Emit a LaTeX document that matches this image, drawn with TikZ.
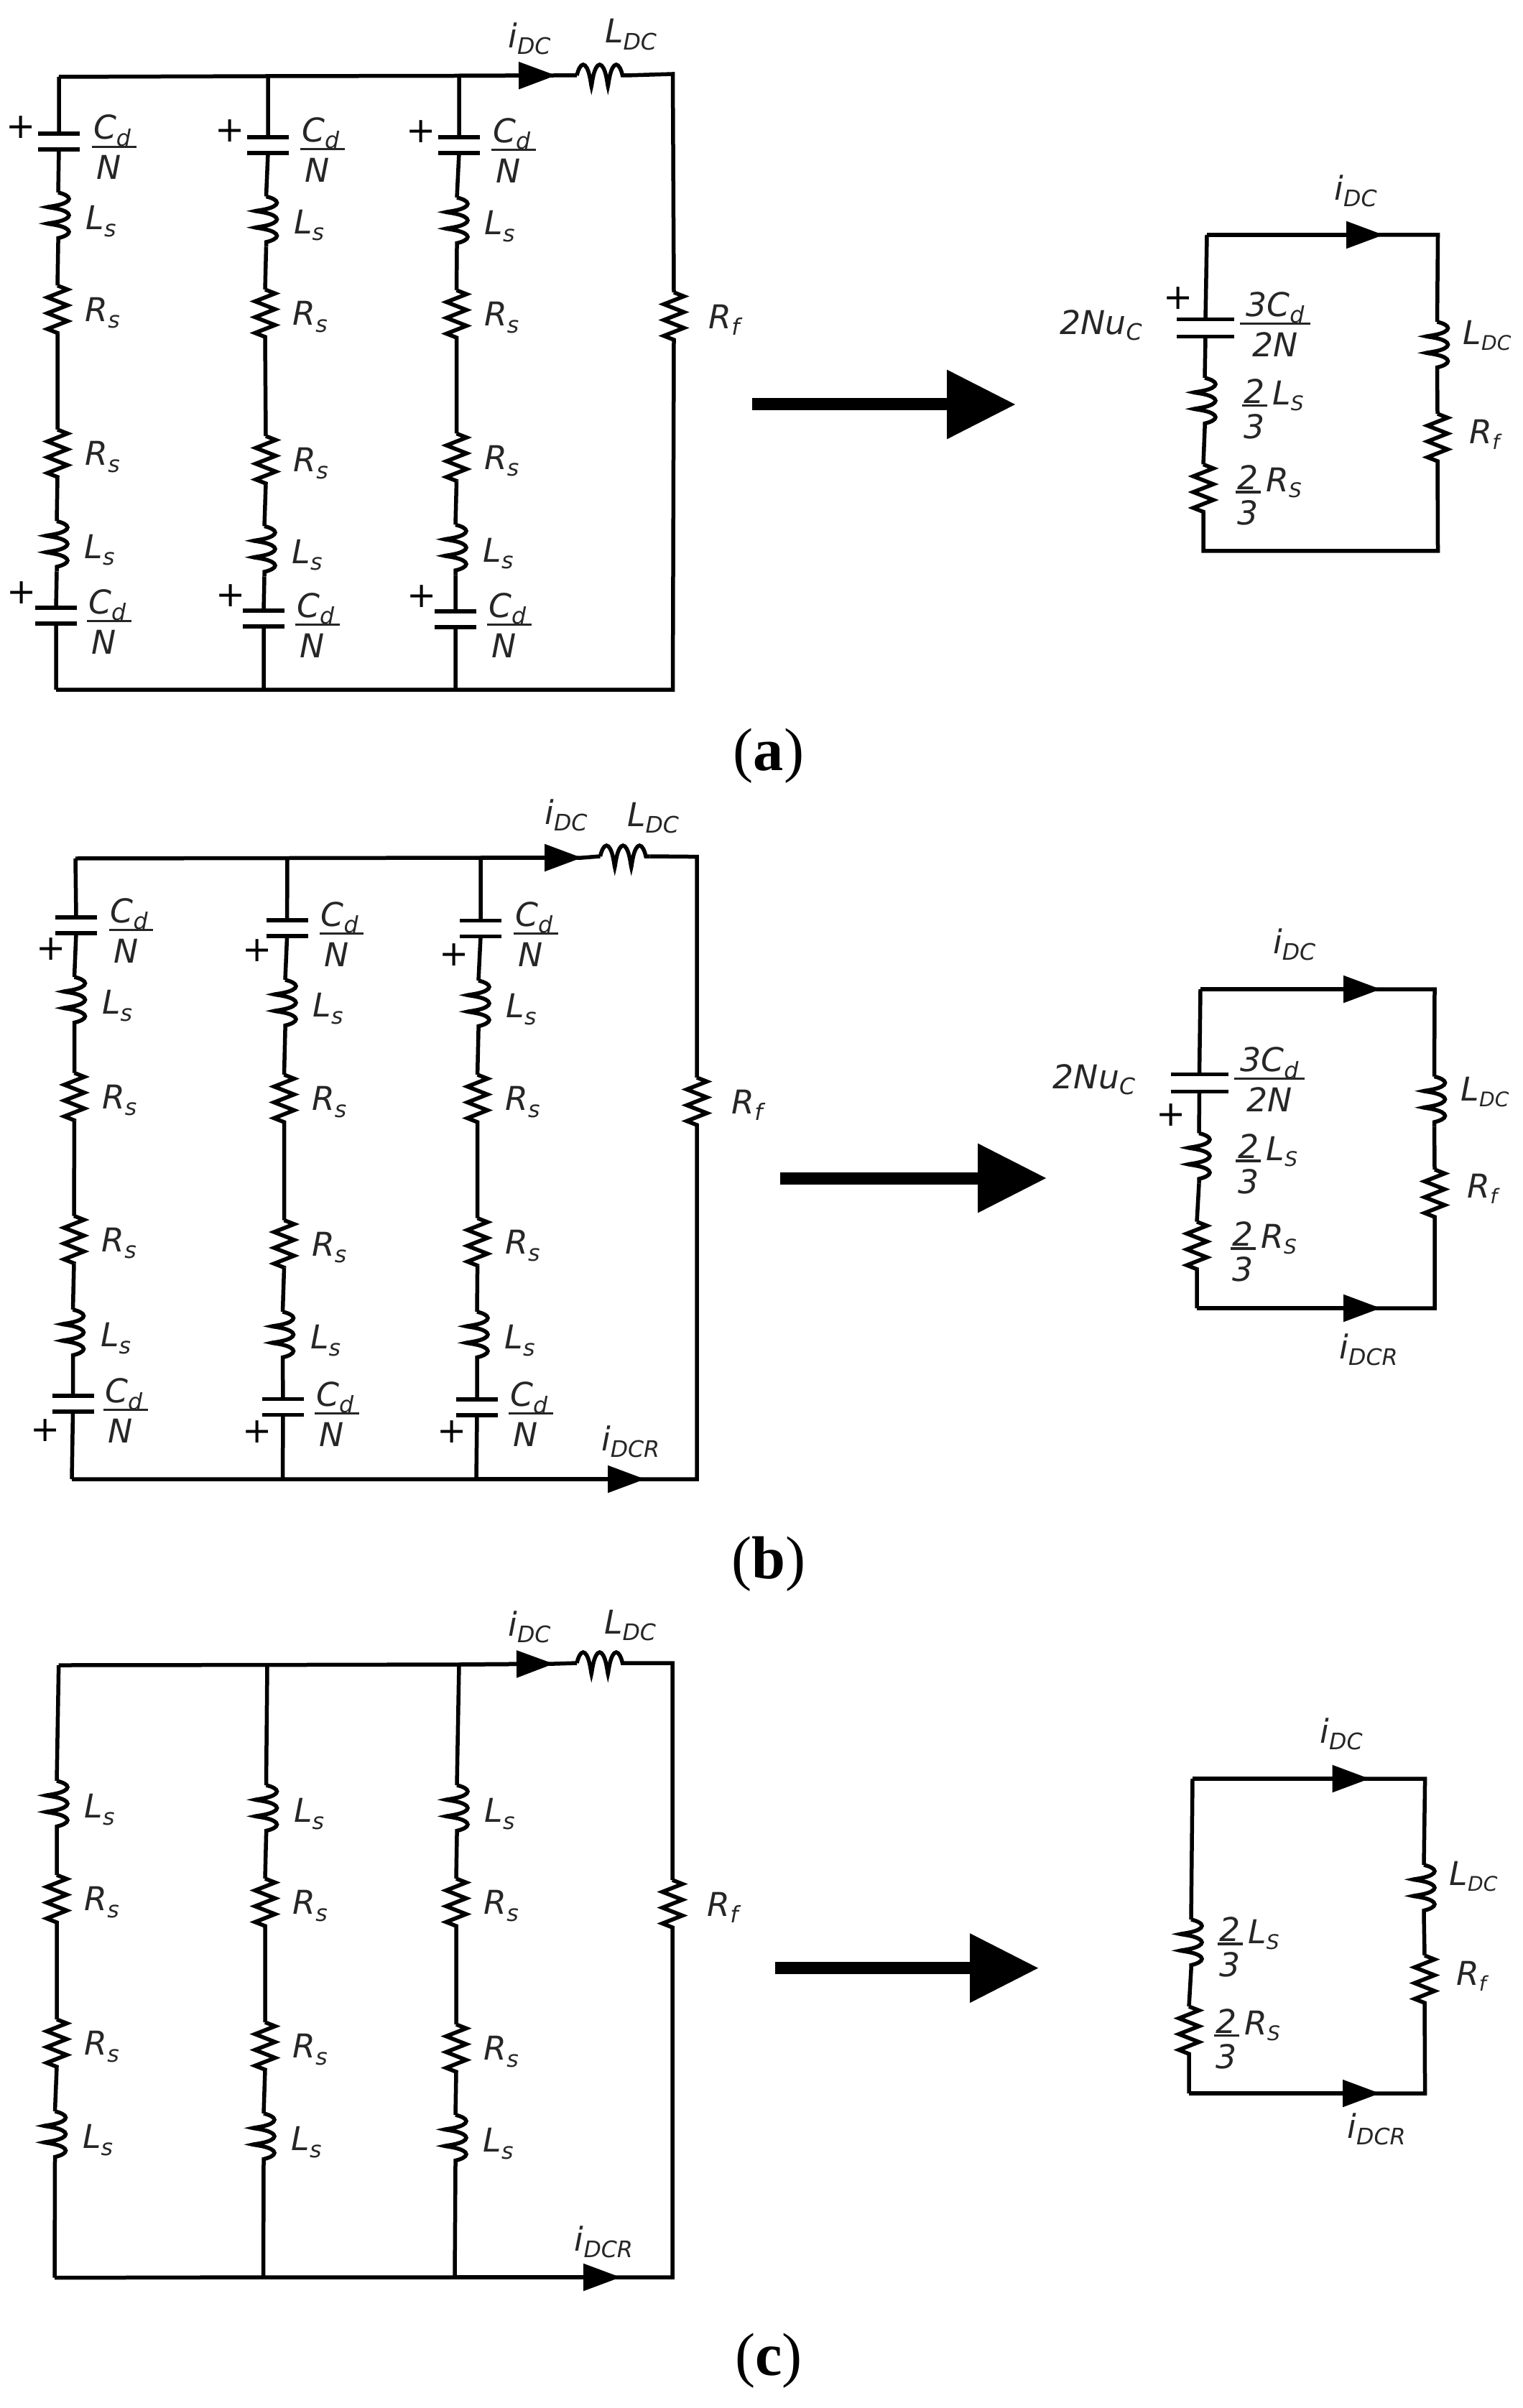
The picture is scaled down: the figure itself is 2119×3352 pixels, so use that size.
\documentclass[tikz,border=0pt]{standalone}
\usepackage{fontspec}
\setmainfont{DejaVu Sans}
\newfontfamily\captionserif{Liberation Serif}
\usetikzlibrary{arrows.meta}
\usetikzlibrary{decorations.pathmorphing}
\setlength{\arrayrulewidth}{0.9pt}
\setlength{\tabcolsep}{0pt}
\newcommand{\symval}[2]{\textit{#1}\raisebox{-2.7pt}{\fontsize{9}{9}\selectfont\textit{#2}}}
\newcommand{\capsval}[2]{\textit{#1}\raisebox{-2.2pt}{\fontsize{8}{8}\selectfont\textit{#2}}}
\newcommand{\fracval}[3]{\begin{tabular}{c}\rule{0pt}{15pt}\makebox[#1]{#2}\\[-2pt]\hline\rule{0pt}{12.5pt}#3\end{tabular}}
\newcommand{\cdfrac}{\fracval{17.6pt}{\symval{C}{d}\kern 1.5pt}{\textit{N}\kern 4pt}}
\newcommand{\thirdval}[2]{\begin{tabular}{c}\rule{0pt}{16.5pt}\makebox[10pt]{\textit{2}}\\[-4pt]\hline\rule{0pt}{12.5pt}\textit{3}\end{tabular}\raisebox{3.2pt}{\,\capsval{#1}{#2}}}
\tikzset{
  wire/.style={draw, line width=0.55mm},
  coilLine/.style={wire, decorate, decoration={coil, aspect=0.2, segment length=2.3mm, amplitude=1.5mm}},
  zigLine/.style={wire, decorate, decoration={zigzag, segment length=2.2mm, amplitude=1.4mm}},
  indNode/.style={rectangle, inner sep=0pt, outer sep=0pt, minimum width=0pt, minimum height=7mm,
    append after command={(\tikzlastnode.north) edge[coilLine] (\tikzlastnode.south)}},
  resNode/.style={rectangle, inner sep=0pt, outer sep=0pt, minimum width=0pt, minimum height=6.6mm,
    append after command={(\tikzlastnode.north) edge[zigLine] (\tikzlastnode.south)}},
  ldcNode/.style={rectangle, inner sep=0pt, outer sep=0pt, minimum height=0pt, minimum width=6.9mm,
    append after command={(\tikzlastnode.west) edge[coilLine] (\tikzlastnode.east)}},
  capNode/.style={rectangle, inner sep=0pt, outer sep=0pt, minimum width=5.8mm, minimum height=2.2mm,
    append after command={(\tikzlastnode.north west) edge[wire] (\tikzlastnode.north east)
      (\tikzlastnode.south west) edge[wire] (\tikzlastnode.south east)}},
  bigCapNode/.style={capNode, minimum width=8mm, minimum height=2.4mm},
  valNode/.style={inner sep=0pt, text=black!85, font=\fontsize{13}{15}\selectfont},
  plusNode/.style={inner sep=0pt, font=\fontsize{14}{14}\selectfont},
  captionNode/.style={inner sep=0pt, font=\captionserif\fontsize{24}{28}\selectfont},
  lsNode/.style={indNode, label={[valNode,xshift=3.8mm,yshift=-1.5pt]right:\symval{L}{s}}},
  rsNode/.style={resNode, label={[valNode,xshift=3.8mm,yshift=-1.5pt]right:\symval{R}{s}}},
  rfNode/.style={resNode, label={[valNode,xshift=4.8mm,yshift=-1.5pt]right:\symval{R}{f}}},
  currentArrow/.style={wire, -{Triangle[length=5.2mm,width=3.7mm]}},
  bigArrow/.style={draw, line width=1.7mm, -{Triangle[length=9.6mm,width=9.2mm]}},
}

\begin{document}
\begin{tikzpicture}[x=0.1mm,y=-0.1mm]
          \useasboundingbox (0,0) rectangle (2119,3352);

          % (a) left
          \coordinate (topA1) at (82,107) ;
          \coordinate (topA2) at (373,106) ;
          \coordinate (topA3) at (639,105.5) ;
          \coordinate (tipA) at (774,105) ;
          \coordinate (corA1) at (936.5,103) ;
          \coordinate (corA2) at (936.5,960) ;
          \coordinate (botA1) at (78,960) ;
          \coordinate (botA2) at (367,960) ;
          \coordinate (botA3) at (634,960) ;

          \node[capNode] (capA11) at (82,197) {} ;
          \node[lsNode] (indA11) at (81,303) {} ;
          \node[rsNode] (resA11) at (80,430.5) {} ;
          \node[rsNode] (resA12) at (80,631) {} ;
          \node[lsNode] (indA12) at (79,760.5) {} ;
          \node[capNode] (capA12) at (78,857) {} ;
          \node[capNode] (capA21) at (373,202) {} ;
          \node[lsNode] (indA21) at (370.5,308.5) {} ;
          \node[rsNode] (resA21) at (369,436) {} ;
          \node[rsNode] (resA22) at (370,640) {} ;
          \node[lsNode] (indA22) at (368,767.5) {} ;
          \node[capNode] (capA22) at (367,861) {} ;
          \node[capNode] (capA31) at (639,202) {} ;
          \node[lsNode] (indA31) at (636,310) {} ;
          \node[rsNode] (resA31) at (635.5,437) {} ;
          \node[rsNode] (resA32) at (635.5,636.5) {} ;
          \node[lsNode] (indA32) at (634,765.5) {} ;
          \node[capNode] (capA32) at (634,862) {} ;
          \node[ldcNode] (ldcA) at (837.5,105) {} ;
          \node[rfNode] (rfA) at (938,440) {} ;

          \node[plusNode] (plusA11) at (29,177) {+} ;
          \node[plusNode] (plusA12) at (30,825) {+} ;
          \node[plusNode] (plusA21) at (320,182) {+} ;
          \node[plusNode] (plusA22) at (321,829) {+} ;
          \node[plusNode] (plusA31) at (586,183) {+} ;
          \node[plusNode] (plusA32) at (587,830) {+} ;
          \node[valNode] (fracA11) at (158.7,203.5) {\cdfrac} ;
          \node[valNode] (fracA12) at (152,864) {\cdfrac} ;
          \node[valNode] (fracA21) at (449,207) {\cdfrac} ;
          \node[valNode] (fracA22) at (442,869) {\cdfrac} ;
          \node[valNode] (fracA31) at (715,208) {\cdfrac} ;
          \node[valNode] (fracA32) at (709,869) {\cdfrac} ;
          \node[valNode] (idcA) at (737,54) {\symval{i}{DC}} ;
          \node[valNode] (ldcTextA) at (878,48) {\symval{L}{DC}} ;

          \draw[wire]
            (topA1) -- (topA2) -- (topA3) -- (tipA) -- (ldcA.west)
            (ldcA.east) -- (corA1) -- (rfA.north)
            (rfA.south) -- (corA2) -- (botA3) -- (botA2) -- (botA1)
            (topA1) -- (capA11.north)
            (capA11.south) -- (indA11.north)
            (indA11.south) -- (resA11.north)
            (resA11.south) -- (resA12.north)
            (resA12.south) -- (indA12.north)
            (indA12.south) -- (capA12.north)
            (capA12.south) -- (botA1)
            (topA2) -- (capA21.north)
            (capA21.south) -- (indA21.north)
            (indA21.south) -- (resA21.north)
            (resA21.south) -- (resA22.north)
            (resA22.south) -- (indA22.north)
            (indA22.south) -- (capA22.north)
            (capA22.south) -- (botA2)
            (topA3) -- (capA31.north)
            (capA31.south) -- (indA31.north)
            (indA31.south) -- (resA31.north)
            (resA31.south) -- (resA32.north)
            (resA32.south) -- (indA32.north)
            (indA32.south) -- (capA32.north)
            (capA32.south) -- (botA3)
            ;
          \draw[currentArrow] (topA3) -- (tipA) ;

          % (a) arrow and right
          \coordinate (bigA1) at (1047,563) ;
          \coordinate (bigA2) at (1414,563) ;
          \draw[bigArrow] (bigA1) -- (bigA2) ;

          \coordinate (rectA1) at (1680,327) ;
          \coordinate (rectTipA) at (1926,327) ;
          \coordinate (rectA2) at (2001.5,327) ;
          \coordinate (rectA3) at (2001.5,767) ;
          \coordinate (rectA4) at (1675,767) ;
          \node[bigCapNode] (capRA) at (1678,456.6) {} ;
          \node[indNode] (indRA) at (1677,561) {} ;
          \node[resNode] (resRA) at (1675,679.5) {} ;
          \node[indNode] (ldcRA) at (2000.5,483) {} ;
          \node[resNode] (rfRA) at (2001,609) {} ;
          \node[plusNode] (plusRA) at (1640,415) {+} ;
          \node[valNode] (unRA) at (1532.5,452.6) {\textit{2Nu}\raisebox{-2.2pt}{\fontsize{9}{9}\selectfont\textit{C}}} ;
          \node[valNode] (fracRA) at (1775,450) {\fracval{27.8pt}{\textit{3}\symval{C}{d}}{\textit{2N}}} ;
          \node[valNode,anchor=west] (lsRA) at (1728,564.5) {\thirdval{L}{S}} ;
          \node[valNode,anchor=west] (rsRA) at (1719,685) {\thirdval{R}{S}} ;
          \node[valNode] (idcRA) at (1887,266) {\symval{i}{DC}} ;
          \node[valNode,anchor=west] (ldcTextRA) at (2036,467) {\capsval{L}{DC}} ;
          \node[valNode,anchor=west] (rfTextRA) at (2045,605) {\capsval{R}{f}} ;
          \draw[wire]
            (rectA1) -- (rectTipA) -- (rectA2) -- (ldcRA.north)
            (ldcRA.south) -- (rfRA.north)
            (rfRA.south) -- (rectA3) -- (rectA4) -- (resRA.south)
            (resRA.north) -- (indRA.south)
            (indRA.north) -- (capRA.south)
            (capRA.north) -- (rectA1)
            ;
          \draw[currentArrow] (rectA1) -- (rectTipA) ;
          \node[captionNode] (captionA) at (1070,1052) {(\textbf{a})} ;

          % (b) left
          \coordinate (topB1) at (105,1195) ;
          \coordinate (topB2) at (400,1194.5) ;
          \coordinate (topB3) at (669,1194) ;
          \coordinate (tipB) at (810,1194) ;
          \coordinate (corB1) at (970,1192.6) ;
          \coordinate (corB2) at (970,2059) ;
          \coordinate (botB1) at (100,2059) ;
          \coordinate (botB2) at (393.5,2059) ;
          \coordinate (botB3) at (663,2059) ;
          \coordinate (tipBB) at (898,2059) ;

          \node[capNode] (capB11) at (106,1288) {} ;
          \node[lsNode] (indB11) at (103.5,1395) {} ;
          \node[rsNode] (resB11) at (103.5,1526.5) {} ;
          \node[rsNode] (resB12) at (103,1725.5) {} ;
          \node[lsNode] (indB12) at (101.5,1858) {} ;
          \node[capNode] (capB12) at (101.5,1954) {} ;
          \node[capNode] (capB21) at (399.6,1292) {} ;
          \node[lsNode] (indB21) at (397,1399) {} ;
          \node[rsNode] (resB21) at (395.5,1529) {} ;
          \node[rsNode] (resB22) at (395.5,1731.5) {} ;
          \node[lsNode] (indB22) at (393.5,1861) {} ;
          \node[capNode] (capB22) at (394,1958.6) {} ;
          \node[capNode] (capB31) at (669,1292.5) {} ;
          \node[lsNode] (indB31) at (666,1400) {} ;
          \node[rsNode] (resB31) at (664.6,1529) {} ;
          \node[rsNode] (resB32) at (664.6,1728.7) {} ;
          \node[lsNode] (indB32) at (664,1861) {} ;
          \node[capNode] (capB32) at (664,1959) {} ;
          \node[ldcNode] (ldcB) at (870,1192) {} ;
          \node[rfNode] (rfB) at (970,1533) {} ;

          \node[plusNode] (plusB11) at (71,1321) {+} ;
          \node[plusNode] (plusB12) at (63,1991) {+} ;
          \node[plusNode] (plusB21) at (358,1323) {+} ;
          \node[plusNode] (plusB22) at (358,1992.6) {+} ;
          \node[plusNode] (plusB31) at (632,1329) {+} ;
          \node[plusNode] (plusB32) at (629,1993) {+} ;
          \node[valNode] (fracB11) at (182.5,1293.7) {\cdfrac} ;
          \node[valNode] (fracB12) at (175,1962) {\cdfrac} ;
          \node[valNode] (fracB21) at (475.5,1298.6) {\cdfrac} ;
          \node[valNode] (fracB22) at (469,1966.7) {\cdfrac} ;
          \node[valNode] (fracB31) at (746,1298.6) {\cdfrac} ;
          \node[valNode] (fracB32) at (739,1967) {\cdfrac} ;
          \node[valNode] (idcB) at (788,1135) {\symval{i}{DC}} ;
          \node[valNode] (ldcTextB) at (909,1138.6) {\symval{L}{DC}} ;
          \node[valNode] (idcrB) at (877.6,2007) {\symval{i}{DCR}} ;

          \draw[wire]
            (topB1) -- (topB2) -- (topB3) -- (tipB) -- (ldcB.west)
            (ldcB.east) -- (corB1) -- (rfB.north)
            (rfB.south) -- (corB2) -- (tipBB) -- (botB3) -- (botB2) -- (botB1)
            (topB1) -- (capB11.north)
            (capB11.south) -- (indB11.north)
            (indB11.south) -- (resB11.north)
            (resB11.south) -- (resB12.north)
            (resB12.south) -- (indB12.north)
            (indB12.south) -- (capB12.north)
            (capB12.south) -- (botB1)
            (topB2) -- (capB21.north)
            (capB21.south) -- (indB21.north)
            (indB21.south) -- (resB21.north)
            (resB21.south) -- (resB22.north)
            (resB22.south) -- (indB22.north)
            (indB22.south) -- (capB22.north)
            (capB22.south) -- (botB2)
            (topB3) -- (capB31.north)
            (capB31.south) -- (indB31.north)
            (indB31.south) -- (resB31.north)
            (resB31.south) -- (resB32.north)
            (resB32.south) -- (indB32.north)
            (indB32.south) -- (capB32.north)
            (capB32.south) -- (botB3)
            ;
          \draw[currentArrow] (topB3) -- (tipB) ;
          \draw[currentArrow] (botB3) -- (tipBB) ;

          % (b) arrow and right
          \coordinate (bigB1) at (1086,1640) ;
          \coordinate (bigB2) at (1457,1640) ;
          \draw[bigArrow] (bigB1) -- (bigB2) ;

          \coordinate (rectB1) at (1671,1377) ;
          \coordinate (rectTipB) at (1922,1377) ;
          \coordinate (rectB2) at (1997,1377) ;
          \coordinate (rectB3) at (1997,1821) ;
          \coordinate (rectTipBB) at (1922,1821) ;
          \coordinate (rectB4) at (1666,1821) ;
          \node[bigCapNode] (capRB) at (1669.5,1507.7) {} ;
          \node[indNode] (indRB) at (1669,1612.5) {} ;
          \node[resNode] (resRB) at (1666,1733.7) {} ;
          \node[indNode] (ldcRB) at (1996.5,1533.5) {} ;
          \node[resNode] (rfRB) at (1997,1661) {} ;
          \node[plusNode] (plusRB) at (1630,1552.5) {+} ;
          \node[valNode] (unRB) at (1523,1502.6) {\textit{2Nu}\raisebox{-2.2pt}{\fontsize{9}{9}\selectfont\textit{C}}} ;
          \node[valNode] (fracRB) at (1767,1501) {\fracval{27.8pt}{\textit{3}\symval{C}{d}}{\textit{2N}}} ;
          \node[valNode,anchor=west] (lsRB) at (1719.5,1616) {\thirdval{L}{S}} ;
          \node[valNode,anchor=west] (rsRB) at (1712,1738) {\thirdval{R}{S}} ;
          \node[valNode] (idcRB) at (1801.6,1315) {\symval{i}{DC}} ;
          \node[valNode] (idcrRB) at (1905,1878.6) {\symval{i}{DCR}} ;
          \node[valNode,anchor=west] (ldcTextRB) at (2033,1520) {\capsval{L}{DC}} ;
          \node[valNode,anchor=west] (rfTextRB) at (2042,1655) {\capsval{R}{f}} ;
          \draw[wire]
            (rectB1) -- (rectTipB) -- (rectB2) -- (ldcRB.north)
            (ldcRB.south) -- (rfRB.north)
            (rfRB.south) -- (rectB3) -- (rectTipBB) -- (rectB4)
            (resRB.south) -- (rectB4)
            (resRB.north) -- (indRB.south)
            (indRB.north) -- (capRB.south)
            (capRB.north) -- (rectB1)
            ;
          \draw[currentArrow] (rectB1) -- (rectTipB) ;
          \draw[currentArrow] (rectB4) -- (rectTipBB) ;
          \node[captionNode] (captionB) at (1070,2177) {(\textbf{b})} ;

          % (c) left
          \coordinate (topC1) at (81.7,2318) ;
          \coordinate (topC2) at (372,2317.6) ;
          \coordinate (topC3) at (639,2317) ;
          \coordinate (tipC) at (771,2316) ;
          \coordinate (corC1) at (936,2315) ;
          \coordinate (corC2) at (936,3170) ;
          \coordinate (botC1) at (76,3170.7) ;
          \coordinate (botC2) at (366.5,3170) ;
          \coordinate (botC3) at (633,3170) ;
          \coordinate (tipCC) at (864,3170) ;

          \node[lsNode] (indC11) at (79,2514) {} ;
          \node[rsNode] (resC11) at (79,2643) {} ;
          \node[rsNode] (resC12) at (79,2844) {} ;
          \node[lsNode] (indC12) at (76.5,2974) {} ;
          \node[lsNode] (indC21) at (370.5,2520) {} ;
          \node[rsNode] (resC21) at (369,2648) {} ;
          \node[rsNode] (resC22) at (369,2848) {} ;
          \node[lsNode] (indC22) at (367,2977) {} ;
          \node[lsNode] (indC31) at (636,2520) {} ;
          \node[rsNode] (resC31) at (635,2648) {} ;
          \node[rsNode] (resC32) at (635,2851) {} ;
          \node[lsNode] (indC32) at (634,2979) {} ;
          \node[ldcNode] (ldcC) at (837.5,2315) {} ;
          \node[rfNode] (rfC) at (936,2650) {} ;

          \node[valNode] (idcC) at (737,2264.7) {\symval{i}{DC}} ;
          \node[valNode] (ldcTextC) at (877,2262.5) {\symval{L}{DC}} ;
          \node[valNode] (idcrC) at (840.4,3120.6) {\symval{i}{DCR}} ;

          \draw[wire]
            (topC1) -- (topC2) -- (topC3) -- (tipC) -- (ldcC.west)
            (ldcC.east) -- (corC1) -- (rfC.north)
            (rfC.south) -- (corC2) -- (tipCC) -- (botC3) -- (botC2) -- (botC1)
            (topC1) -- (indC11.north)
            (indC11.south) -- (resC11.north)
            (resC11.south) -- (resC12.north)
            (resC12.south) -- (indC12.north)
            (indC12.south) -- (botC1)
            (topC2) -- (indC21.north)
            (indC21.south) -- (resC21.north)
            (resC21.south) -- (resC22.north)
            (resC22.south) -- (indC22.north)
            (indC22.south) -- (botC2)
            (topC3) -- (indC31.north)
            (indC31.south) -- (resC31.north)
            (resC31.south) -- (resC32.north)
            (resC32.south) -- (indC32.north)
            (indC32.south) -- (botC3)
            ;
          \draw[currentArrow] (topC3) -- (tipC) ;
          \draw[currentArrow] (botC3) -- (tipCC) ;

          % (c) arrow and right
          \coordinate (bigC1) at (1078.5,2739.6) ;
          \coordinate (bigC2) at (1446,2739.6) ;
          \draw[bigArrow] (bigC1) -- (bigC2) ;

          \coordinate (rectC1) at (1660,2476) ;
          \coordinate (rectTipC) at (1906.5,2476) ;
          \coordinate (rectC2) at (1983.6,2476) ;
          \coordinate (rectC3) at (1983.6,2914) ;
          \coordinate (rectTipCC) at (1921,2914) ;
          \coordinate (rectC4) at (1655,2914) ;
          \node[indNode] (indRC) at (1658,2707) {} ;
          \node[resNode] (resRC) at (1655,2826) {} ;
          \node[indNode] (ldcRC) at (1982,2631) {} ;
          \node[resNode] (rfRC) at (1983,2755) {} ;
          \node[valNode,anchor=west] (lsRC) at (1694,2706) {\thirdval{L}{S}} ;
          \node[valNode,anchor=west] (rsRC) at (1689,2833.5) {\thirdval{R}{S}} ;
          \node[valNode] (idcRC) at (1867,2414) {\symval{i}{DC}} ;
          \node[valNode] (idcrRC) at (1916,2964) {\symval{i}{DCR}} ;
          \node[valNode,anchor=west] (ldcTextRC) at (2017,2612) {\capsval{L}{DC}} ;
          \node[valNode,anchor=west] (rfTextRC) at (2026.5,2751) {\capsval{R}{f}} ;
          \draw[wire]
            (rectC1) -- (rectTipC) -- (rectC2) -- (ldcRC.north)
            (ldcRC.south) -- (rfRC.north)
            (rfRC.south) -- (rectC3) -- (rectTipCC) -- (rectC4)
            (resRC.south) -- (rectC4)
            (resRC.north) -- (indRC.south)
            (indRC.north) -- (rectC1)
            ;
          \draw[currentArrow] (rectC1) -- (rectTipC) ;
          \draw[currentArrow] (rectC4) -- (rectTipCC) ;
          \node[captionNode] (captionC) at (1070,3286.6) {(\textbf{c})} ;

        \end{tikzpicture}
\end{document}
